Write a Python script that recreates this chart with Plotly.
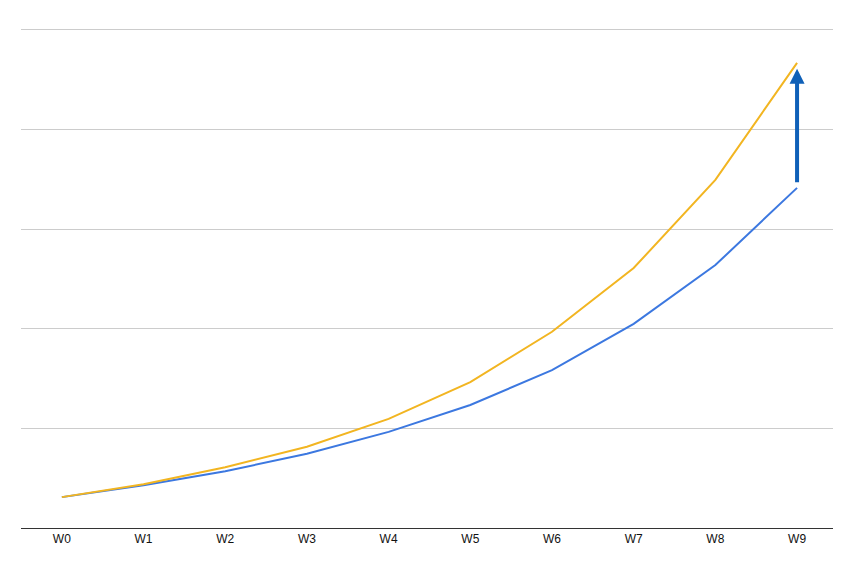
import plotly.graph_objects as go

weeks = ["W0", "W1", "W2", "W3", "W4", "W5", "W6", "W7", "W8", "W9"]
series_yellow = [6.2, 8.8, 12.2, 16.3, 21.9, 29.3, 39.4, 52.2, 69.9, 93.4]
series_blue = [6.2, 8.6, 11.4, 14.9, 19.3, 24.7, 31.7, 41.0, 52.8, 68.3]

YELLOW = "#F2B521"
BLUE = "#3C78E0"
ARROW = "#0F60B8"

idx = list(range(len(weeks)))

fig = go.Figure()
fig.add_trace(go.Scatter(x=idx, y=series_blue, mode="lines",
                         line=dict(color=BLUE, width=2), showlegend=False, hoverinfo="skip"))
fig.add_trace(go.Scatter(x=idx, y=series_yellow, mode="lines",
                         line=dict(color=YELLOW, width=2), showlegend=False, hoverinfo="skip"))

last = idx[-1]
fig.add_annotation(x=last, y=series_yellow[-1], ax=last, ay=series_blue[-1],
                   xref="x", yref="y", axref="x", ayref="y",
                   text="", showarrow=True, arrowhead=2, arrowsize=0.75,
                   arrowwidth=4, arrowcolor=ARROW, standoff=6, startstandoff=4)

fig.update_layout(
    width=854, height=561,
    margin=dict(l=13, r=29, t=20, b=41),
    paper_bgcolor="white", plot_bgcolor="white",
    font=dict(family="Liberation Sans, Arial, sans-serif", size=12, color="#222"),
    xaxis=dict(range=[-0.5, 9.44], tickmode="array", tickvals=idx, ticktext=weeks,
               showgrid=False, zeroline=False, showline=True, linecolor="#333",
               linewidth=1, ticks="", tickfont=dict(size=12, color="#111")),
    yaxis=dict(range=[0, 100.4], tickvals=[0, 20, 40, 60, 80, 100], showticklabels=False,
               showgrid=True, gridcolor="#cccccc", gridwidth=1, zeroline=False,
               showline=False, ticks=""),
)

fig.write_html("out.html")
